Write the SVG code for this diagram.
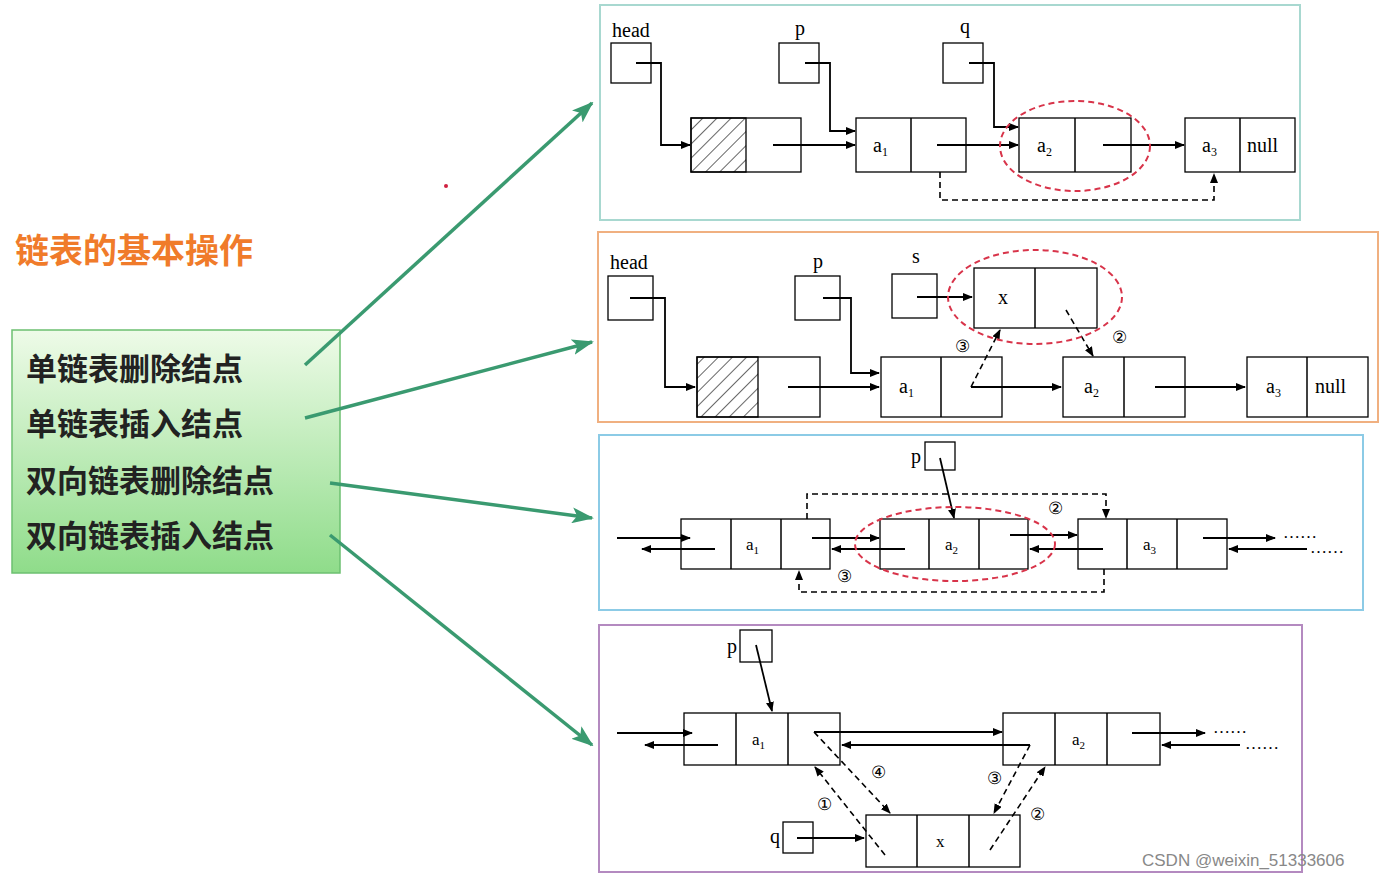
<svg xmlns="http://www.w3.org/2000/svg" width="1391" height="879" viewBox="0 0 1391 879">
<defs>
<marker id="ah" markerWidth="10" markerHeight="8" refX="9" refY="4" orient="auto" markerUnits="userSpaceOnUse"><path d="M0,0 L10,4 L0,8 Z" fill="#000"/></marker>
<marker id="gh" markerWidth="22" markerHeight="16" refX="20" refY="8" orient="auto" markerUnits="userSpaceOnUse"><path d="M0,0 L22,8 L0,16 L5,8 Z" fill="#3a9a70"/></marker>
<pattern id="hatch" width="10" height="10" patternUnits="userSpaceOnUse" patternTransform="rotate(45)"><line x1="0" y1="0" x2="0" y2="10" stroke="#000" stroke-width="1.2"/></pattern>
<linearGradient id="gg" x1="0" y1="0" x2="0" y2="1"><stop offset="0" stop-color="#eefbe8"/><stop offset="1" stop-color="#8fdc8a"/></linearGradient>
</defs>
<style>
.b{fill:#fff;stroke:#000;stroke-width:1.3}
.l{fill:none;stroke:#000;stroke-width:1.5}
.a{fill:none;stroke:#000;stroke-width:1.8;marker-end:url(#ah)}
.d{fill:none;stroke:#000;stroke-width:1.6;stroke-dasharray:6 4;marker-end:url(#ah)}
.e{fill:none;stroke:#d8344a;stroke-width:2;stroke-dasharray:6 4}
.t{font-family:"Liberation Serif",serif;font-size:20px;fill:#000}
.s{font-family:"Liberation Serif",serif;font-size:17px;fill:#000}
.g{stroke:#3a9a70;stroke-width:3.5;fill:none;marker-end:url(#gh)}
.cn{font-family:"Noto Sans CJK SC",sans-serif;font-weight:bold;font-size:31px;fill:#222}
</style>
<rect width="1391" height="879" fill="#fff"/>
<g id="title"><text x="15" y="263" font-family="Noto Sans CJK SC,sans-serif" font-weight="bold" font-size="34" fill="#f07b2a">链表的基本操作</text></g>
<circle cx="446" cy="186" r="2" fill="#d02040"/>
<g id="menu">
<rect x="12" y="330" width="328" height="243" fill="url(#gg)" stroke="#6cc070" stroke-width="1.5"/>
<text class="cn" x="26" y="380">单链表删除结点</text>
<text class="cn" x="26" y="435">单链表插入结点</text>
<text class="cn" x="26" y="492">双向链表删除结点</text>
<text class="cn" x="26" y="547">双向链表插入结点</text>
</g>
<g id="connectors">
<line class="g" x1="305" y1="365" x2="592" y2="103"/>
<line class="g" x1="305" y1="418" x2="592" y2="342"/>
<line class="g" x1="330" y1="483" x2="592" y2="518"/>
<line class="g" x1="330" y1="535" x2="592" y2="745"/>
</g>
<g id="panel1">
<rect x="600" y="5" width="700" height="215" fill="none" stroke="#a8d8d0" stroke-width="2"/>
<text class="t" x="612" y="37">head</text><rect class="b" x="611" y="43" width="40" height="40"/>
<text class="t" x="795" y="35">p</text><rect class="b" x="779" y="43" width="40" height="40"/>
<text class="t" x="960" y="33">q</text><rect class="b" x="943" y="43" width="40" height="40"/>
<rect class="b" x="691" y="118" width="110" height="54"/><rect x="691" y="118" width="55" height="54" fill="url(#hatch)" stroke="#000" stroke-width="1.3"/>
<rect class="b" x="856" y="118" width="110" height="54"/><line class="l" x1="911" y1="118" x2="911" y2="172"/>
<text class="t" x="873" y="152">a<tspan font-size="12" dy="4">1</tspan></text>
<rect class="b" x="1019" y="118" width="112" height="54"/><line class="l" x1="1075" y1="118" x2="1075" y2="172"/>
<text class="t" x="1037" y="152">a<tspan font-size="12" dy="4">2</tspan></text>
<rect class="b" x="1185" y="118" width="110" height="54"/><line class="l" x1="1240" y1="118" x2="1240" y2="172"/>
<text class="t" x="1202" y="152">a<tspan font-size="12" dy="4">3</tspan></text><text class="t" x="1247" y="152">null</text>
<path class="a" d="M636,63 H661 V145 H690"/>
<path class="a" d="M805,63 H830 V131 H855"/>
<path class="a" d="M969,63 H994 V127 H1018"/>
<path class="a" d="M773,145 H855"/>
<path class="a" d="M937,145 H1018"/>
<path class="a" d="M1103,145 H1184"/>
<path class="d" d="M940,172 V200 H1214 V174"/>
<ellipse class="e" cx="1075" cy="146" rx="75" ry="45"/>
</g>
<g id="panel2">
<rect x="598" y="232" width="780" height="190" fill="none" stroke="#f0b080" stroke-width="2"/>
<text class="t" x="610" y="269">head</text><rect class="b" x="608" y="276" width="45" height="44"/>
<text class="t" x="813" y="268">p</text><rect class="b" x="795" y="276" width="45" height="44"/>
<text class="t" x="912" y="263">s</text><rect class="b" x="892" y="274" width="45" height="44"/>
<rect class="b" x="697" y="357" width="123" height="60"/><rect x="697" y="357" width="61" height="60" fill="url(#hatch)" stroke="#000" stroke-width="1.3"/>
<rect class="b" x="881" y="357" width="121" height="60"/><line class="l" x1="941" y1="357" x2="941" y2="417"/>
<text class="t" x="899" y="393">a<tspan font-size="12" dy="4">1</tspan></text>
<rect class="b" x="974" y="268" width="123" height="60"/><line class="l" x1="1035" y1="268" x2="1035" y2="328"/>
<text class="t" x="998" y="304">x</text>
<rect class="b" x="1063" y="357" width="122" height="60"/><line class="l" x1="1124" y1="357" x2="1124" y2="417"/>
<text class="t" x="1084" y="393">a<tspan font-size="12" dy="4">2</tspan></text>
<rect class="b" x="1247" y="357" width="121" height="60"/><line class="l" x1="1307" y1="357" x2="1307" y2="417"/>
<text class="t" x="1266" y="393">a<tspan font-size="12" dy="4">3</tspan></text><text class="t" x="1315" y="393">null</text>
<path class="a" d="M630,298 H665 V387 H695"/>
<path class="a" d="M823,298 H851 V373 H879"/>
<path class="a" d="M788,387 H879"/>
<path class="a" d="M917,297 H972"/>
<path class="a" d="M971,387 H1061"/>
<path class="a" d="M1155,387 H1245"/>
<path class="d" d="M971,387 L1000,330"/>
<path class="d" d="M1066,310 L1093,356"/>
<ellipse class="e" cx="1035" cy="297" rx="87" ry="47"/>
<text class="s" x="955" y="352">③</text><text class="s" x="1112" y="343">②</text>
</g>
<g id="panel3">
<rect x="599" y="435" width="764" height="175" fill="none" stroke="#8ccbe6" stroke-width="2"/>
<text class="t" x="911" y="463">p</text><rect class="b" x="925" y="442" width="30" height="28"/>
<rect class="b" x="681" y="519" width="149" height="50"/><line class="l" x1="731" y1="519" x2="731" y2="569"/><line class="l" x1="781" y1="519" x2="781" y2="569"/>
<text class="s" x="746" y="550">a<tspan font-size="11" dy="4">1</tspan></text>
<rect class="b" x="880" y="519" width="148" height="50"/><line class="l" x1="929" y1="519" x2="929" y2="569"/><line class="l" x1="979" y1="519" x2="979" y2="569"/>
<text class="s" x="945" y="550">a<tspan font-size="11" dy="4">2</tspan></text>
<rect class="b" x="1078" y="519" width="149" height="50"/><line class="l" x1="1127" y1="519" x2="1127" y2="569"/><line class="l" x1="1177" y1="519" x2="1177" y2="569"/>
<text class="s" x="1143" y="550">a<tspan font-size="11" dy="4">3</tspan></text>
<path class="a" d="M940,458 L954,518"/>
<path class="a" d="M617,538 H690"/><path class="a" d="M715,549 H642"/>
<path class="a" d="M812,538 H879"/><path class="a" d="M905,549 H832"/>
<path class="a" d="M1010,535 H1077"/><path class="a" d="M1103,549 H1030"/>
<path class="a" d="M1203,538 H1275"/><path class="a" d="M1307,549 H1229"/>
<text class="s" x="1283" y="538">……</text><text class="s" x="1310" y="553">……</text>
<path class="d" d="M807,519 V494 H1106 V518"/>
<path class="d" d="M1104,569 V592 H799 V571"/>
<ellipse class="e" cx="955" cy="544" rx="100" ry="37"/>
<text class="s" x="1048" y="514">②</text><text class="s" x="837" y="582">③</text>
</g>
<g id="panel4">
<rect x="599" y="625" width="703" height="247" fill="none" stroke="#b48ac0" stroke-width="2"/>
<text class="t" x="727" y="653">p</text><rect class="b" x="740" y="630" width="32" height="32"/>
<rect class="b" x="684" y="713" width="156" height="52"/><line class="l" x1="736" y1="713" x2="736" y2="765"/><line class="l" x1="788" y1="713" x2="788" y2="765"/>
<text class="s" x="752" y="745">a<tspan font-size="11" dy="4">1</tspan></text>
<rect class="b" x="1003" y="713" width="157" height="52"/><line class="l" x1="1055" y1="713" x2="1055" y2="765"/><line class="l" x1="1107" y1="713" x2="1107" y2="765"/>
<text class="s" x="1072" y="745">a<tspan font-size="11" dy="4">2</tspan></text>
<rect class="b" x="866" y="815" width="154" height="52"/><line class="l" x1="917" y1="815" x2="917" y2="867"/><line class="l" x1="969" y1="815" x2="969" y2="867"/>
<text class="s" x="936" y="847">x</text>
<text class="t" x="770" y="843">q</text><rect class="b" x="783" y="822" width="30" height="31"/>
<path class="a" d="M756,645 L772,711"/>
<path class="a" d="M617,733 H692"/><path class="a" d="M718,745 H645"/>
<path class="a" d="M814,732 H1002"/><path class="a" d="M1030,745 H842"/>
<path class="a" d="M1132,733 H1205"/><path class="a" d="M1240,745 H1162"/>
<text class="s" x="1213" y="733">……</text><text class="s" x="1245" y="749">……</text>
<path class="a" d="M797,838 H864"/>
<path class="d" d="M814,732 L890,813"/>
<path class="d" d="M885,855 L815,767"/>
<path class="d" d="M1030,745 L994,813"/>
<path class="d" d="M990,850 L1045,767"/>
<text class="s" x="871" y="778">④</text><text class="s" x="817" y="810">①</text>
<text class="s" x="987" y="784">③</text><text class="s" x="1030" y="820">②</text>
</g>
<text x="1142" y="866" font-family="Liberation Sans,sans-serif" font-size="17" fill="#888">CSDN @weixin_51333606</text>
</svg>
